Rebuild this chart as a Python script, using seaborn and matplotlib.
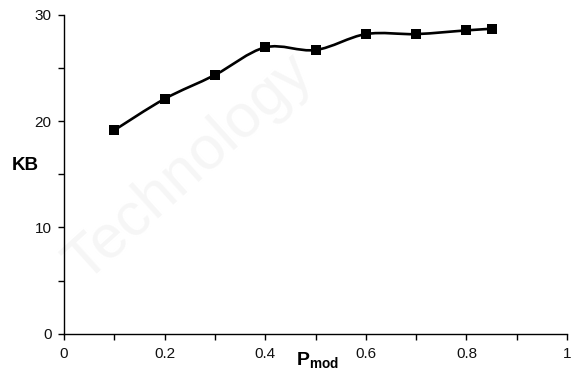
import matplotlib
matplotlib.use("Agg")
import matplotlib.pyplot as plt
from matplotlib.path import Path
from matplotlib.patches import PathPatch
import numpy as np
import pandas as pd
import seaborn as sns

# ---- data ----
p_mod = [0.1, 0.2, 0.3, 0.4, 0.5, 0.6, 0.7, 0.8, 0.85]
kb = [19.15, 22.1, 24.35, 26.95, 26.7, 28.2, 28.2, 28.55, 28.7]

x_ticks = [0, 0.2, 0.4, 0.6, 0.8, 1]
x_tick_labels = ["0", "0.2", "0.4", "0.6", "0.8", "1"]
y_ticks = [0, 10, 20, 30]

sns.set_theme(style="white")
plt.rcParams["font.family"] = ["Liberation Sans", "DejaVu Sans"]
plt.rcParams["mathtext.fontset"] = "custom"
plt.rcParams["mathtext.bf"] = "Liberation Sans:bold"
plt.rcParams["mathtext.rm"] = "Liberation Sans"

df = pd.DataFrame({"P_mod": p_mod, "KB": kb})

fig = plt.figure(figsize=(5.74, 3.74), dpi=100)
ax = fig.add_axes([0.1115, 0.108, 0.8765, 0.852])

# faint watermark behind everything (drawn inside the axes so the spines stay on top)
ax.text(0.33, 0.55, "Technology", fontsize=44, color="#f6f6f6",
        rotation=42, ha="center", va="center", zorder=0,
        transform=fig.transFigure)

# ---- smoothed connecting line (Catmull-Rom style Bezier, like Excel) ----
pts = np.column_stack([df["P_mod"], df["KB"]])
ext = np.vstack([pts[0], pts, pts[-1]])
verts = [tuple(pts[0])]
codes = [Path.MOVETO]
for i in range(1, len(ext) - 2):
    p0, p1, p2, p3 = ext[i - 1], ext[i], ext[i + 1], ext[i + 2]
    c1 = p1 + (p2 - p0) / 6.0
    c2 = p2 - (p3 - p1) / 6.0
    verts += [tuple(c1), tuple(c2), tuple(p2)]
    codes += [Path.CURVE4] * 3
ax.add_patch(PathPatch(Path(verts, codes), facecolor="none",
                       edgecolor="black", lw=1.9, zorder=2))

# ---- markers ----
sns.scatterplot(data=df, x="P_mod", y="KB", marker="s", s=44,
                color="black", edgecolor="black", linewidth=0, zorder=3, ax=ax)

# ---- axes ----
ax.set_xlim(0, 1)
ax.set_ylim(0, 30)
ax.set_xticks(x_ticks)
ax.set_xticklabels(x_tick_labels)
ax.set_xticks(np.arange(0.1, 1.0, 0.2), minor=True)
ax.set_yticks(y_ticks)
ax.set_yticks([5, 15, 25], minor=True)

for side in ["top", "right"]:
    ax.spines[side].set_visible(False)
for side in ["left", "bottom"]:
    ax.spines[side].set_color("black")
    ax.spines[side].set_linewidth(1.0)
    ax.spines[side].set_zorder(5)

ax.tick_params(axis="both", which="both", direction="out", length=4,
               width=1, color="black", labelsize=11, labelcolor="#111111")
ax.tick_params(axis="x", which="both", bottom=True, pad=6)
ax.tick_params(axis="y", which="both", left=True, pad=5)

ax.set_xlabel(r"$\mathbf{P}_{\mathbf{mod}}$", fontsize=14, color="black")
ax.xaxis.set_label_coords(0.503, -0.055)
ax.set_ylabel("KB", fontsize=13.5, fontweight="bold", rotation=0,
              color="black", ha="center", va="center")
ax.yaxis.set_label_coords(-0.078, 0.526)

fig.savefig("out.png", dpi=100)
